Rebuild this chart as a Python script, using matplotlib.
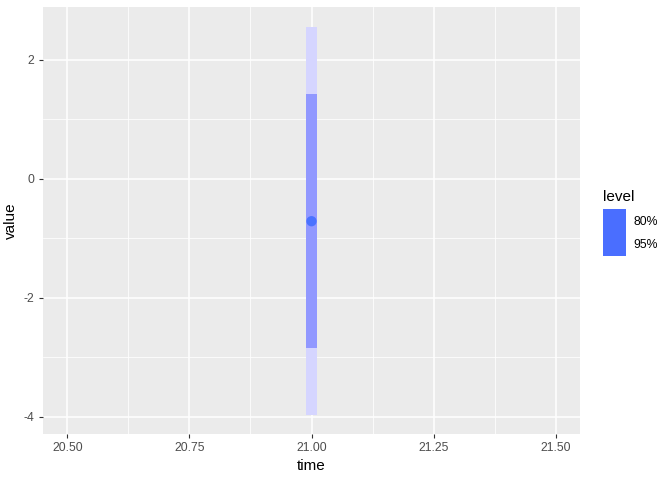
import matplotlib
matplotlib.use("Agg")
import matplotlib.pyplot as plt
from matplotlib.patches import Rectangle

plt.rcParams['font.family'] = ['Liberation Sans', 'DejaVu Sans']

time = [21.0]
mean = [-0.71]
lo80 = [-2.845]
hi80 = [1.43]
lo95 = [-3.97]
hi95 = [2.56]
levels = ["80%", "95%"]
xticks = [20.5, 20.75, 21.0, 21.25, 21.5]
xticklabels = ["20.50", "20.75", "21.00", "21.25", "21.50"]
yticks = [-4, -2, 0, 2]

W, H = 672, 480
fig = plt.figure(figsize=(W/100, H/100), dpi=100)
ax = fig.add_axes([43/W, 1-434/H, (580-43)/W, (434-7)/H])
ax.set_facecolor("#EBEBEB")
ax.set_xlim(20.45, 21.55)
ax.set_ylim(-4.286, 2.89)

# grid
for v in [20.625, 20.875, 21.125, 21.375]:
    ax.axvline(v, color="white", lw=0.55, zorder=0)
for v in [-3, -1, 1]:
    ax.axhline(v, color="white", lw=0.55, zorder=0)
for v in xticks:
    ax.axvline(v, color="white", lw=1.1, zorder=0)
for v in yticks:
    ax.axhline(v, color="white", lw=1.1, zorder=0)

bw = 0.0225
for t, a, b in zip(time, lo95, hi95):
    ax.add_patch(Rectangle((t-bw/2, a), bw, b-a, facecolor="#D5D5FF", edgecolor="none", zorder=2))
for t, a, b in zip(time, lo80, hi80):
    ax.add_patch(Rectangle((t-bw/2, a), bw, b-a, facecolor="#9198FF", edgecolor="none", zorder=3))
ax.scatter(time, mean, s=55, color="#4A72FF", zorder=4, edgecolors="none")

ax.set_xticks(xticks)
ax.set_xticklabels(xticklabels)
ax.set_yticks(yticks)
ax.set_yticklabels([str(v) for v in yticks])
ax.tick_params(axis="both", colors="#333333", labelcolor="#4D4D4D", labelsize=8.8, length=3, width=0.8, pad=3)
for s in ax.spines.values():
    s.set_visible(False)
ax.set_xlabel("time", fontsize=11, color="black", labelpad=3)
ax.set_ylabel("value", fontsize=11, color="black", labelpad=4)

# legend
fig.text(603/W, 1-197/H, "level", fontsize=11, va="center", ha="left")
fig.patches.append(Rectangle((603/W, 1-256/H), 23/W, 47/H, transform=fig.transFigure,
                             facecolor="#4A6EFF", edgecolor="none"))
fig.text(633/W, 1-222/H, levels[0], fontsize=8.8, va="center", ha="left")
fig.text(633/W, 1-245/H, levels[1], fontsize=8.8, va="center", ha="left")

fig.savefig("out.png", dpi=100)
